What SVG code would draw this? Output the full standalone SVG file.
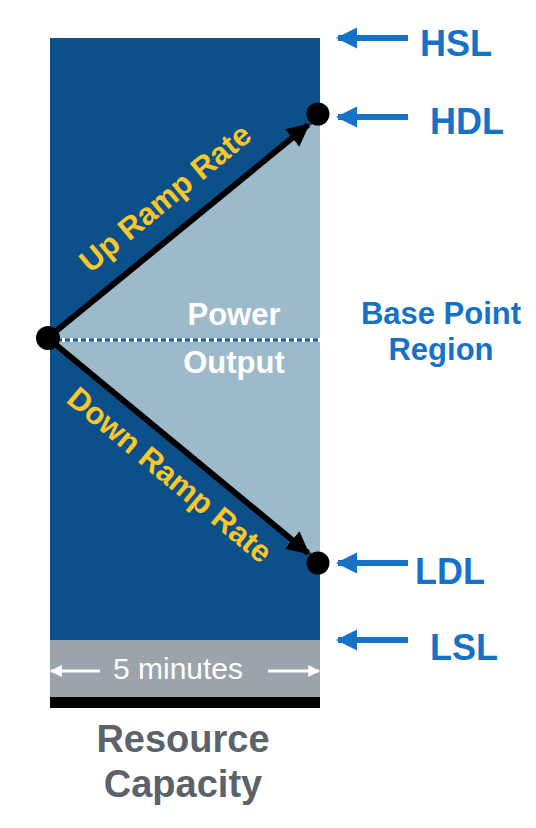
<svg xmlns="http://www.w3.org/2000/svg" width="536" height="828" viewBox="0 0 536 828">
<style>
.lbl{font-family:"Liberation Sans",Arial,sans-serif;font-weight:bold;fill:#1672c6;font-size:36px}
.yel{font-family:"Liberation Sans",Arial,sans-serif;font-weight:bold;fill:#f9c62b;font-size:31px}
.wht{font-family:"Liberation Sans",Arial,sans-serif;font-weight:bold;fill:#ffffff;font-size:31px}
.dot{fill:#000}
.barrow{stroke:#1672c6;stroke-width:6;fill:none}
</style>
<defs>
<marker id="ah" viewBox="0 0 10 10" refX="9" refY="5" markerWidth="3.8" markerHeight="3.8" orient="auto" markerUnits="strokeWidth"><path d="M0,0 L10,5 L0,10 Z" fill="#000"/></marker>
<marker id="bh" viewBox="0 0 10 10" refX="9" refY="5" markerWidth="3.6" markerHeight="3.6" orient="auto" markerUnits="strokeWidth"><path d="M0,0 L10,5 L0,10 Z" fill="#1672c6"/></marker>
<marker id="wh" viewBox="0 0 10 10" refX="9" refY="5" markerWidth="4" markerHeight="4" orient="auto" markerUnits="strokeWidth"><path d="M0,0 L10,5 L0,10 Z" fill="#fff"/></marker>
</defs>
<g id="capacity">
<rect x="50" y="38" width="270" height="602" fill="#0b5089"/>
<polygon points="50,338 320,118 320,560" fill="#9dbaca"/>
<rect x="50" y="640" width="270" height="57" fill="#9ba3ab"/>
<rect x="50" y="697" width="270" height="11" fill="#000"/>
</g>
<g id="connectors">
<line x1="58" y1="340" x2="320" y2="340" stroke="#2a5f94" stroke-width="3"/>
<line x1="62" y1="340" x2="320" y2="340" stroke="#fff" stroke-width="4" stroke-dasharray="3,5"/>
<line x1="55" y1="332" x2="308" y2="125" stroke="#000" stroke-width="6" marker-end="url(#ah)"/>
<line x1="55" y1="344" x2="308" y2="553" stroke="#000" stroke-width="6" marker-end="url(#ah)"/>
<line x1="408" y1="38" x2="338" y2="38" class="barrow" marker-end="url(#bh)"/>
<line x1="408" y1="117" x2="338" y2="117" class="barrow" marker-end="url(#bh)"/>
<line x1="408" y1="563" x2="338" y2="563" class="barrow" marker-end="url(#bh)"/>
<line x1="408" y1="640" x2="338" y2="640" class="barrow" marker-end="url(#bh)"/>
<line x1="100" y1="671" x2="51" y2="671" stroke="#fff" stroke-width="3" marker-end="url(#wh)"/>
<line x1="268" y1="671" x2="319" y2="671" stroke="#fff" stroke-width="3" marker-end="url(#wh)"/>
</g>
<g id="base-point"><circle cx="48" cy="338" r="12" class="dot"/></g>
<g id="hdl-point"><circle cx="318" cy="114" r="11.5" class="dot"/></g>
<g id="ldl-point"><circle cx="318" cy="563" r="11.5" class="dot"/></g>
<g id="up-label"><text class="yel" text-anchor="middle" transform="translate(172,206) rotate(-39.7)">Up Ramp Rate</text></g>
<g id="down-label"><text class="yel" text-anchor="middle" transform="translate(163,483) rotate(39.8)">Down Ramp Rate</text></g>
<g id="power-label"><text class="wht" text-anchor="middle" x="234" y="325">Power</text><text class="wht" text-anchor="middle" x="234" y="373">Output</text></g>
<g id="hsl"><text class="lbl" x="420" y="56">HSL</text></g>
<g id="hdl"><text class="lbl" x="430" y="134">HDL</text></g>
<g id="bpr"><text class="lbl" text-anchor="middle" x="441" y="324" style="font-size:31px">Base Point</text><text class="lbl" text-anchor="middle" x="441" y="360" style="font-size:31px">Region</text></g>
<g id="ldl"><text class="lbl" x="415" y="584">LDL</text></g>
<g id="lsl"><text class="lbl" x="430" y="660">LSL</text></g>
<g id="minutes"><text x="178" y="679" text-anchor="middle" style="font-family:'Liberation Sans',Arial,sans-serif;font-size:30px;fill:#fff">5 minutes</text></g>
<g id="resource"><text text-anchor="middle" x="183" y="752" style="font-family:'Liberation Sans',Arial,sans-serif;font-weight:bold;font-size:38px;fill:#5a626a">Resource</text><text text-anchor="middle" x="183" y="797" style="font-family:'Liberation Sans',Arial,sans-serif;font-weight:bold;font-size:38px;fill:#5a626a">Capacity</text></g>
</svg>
